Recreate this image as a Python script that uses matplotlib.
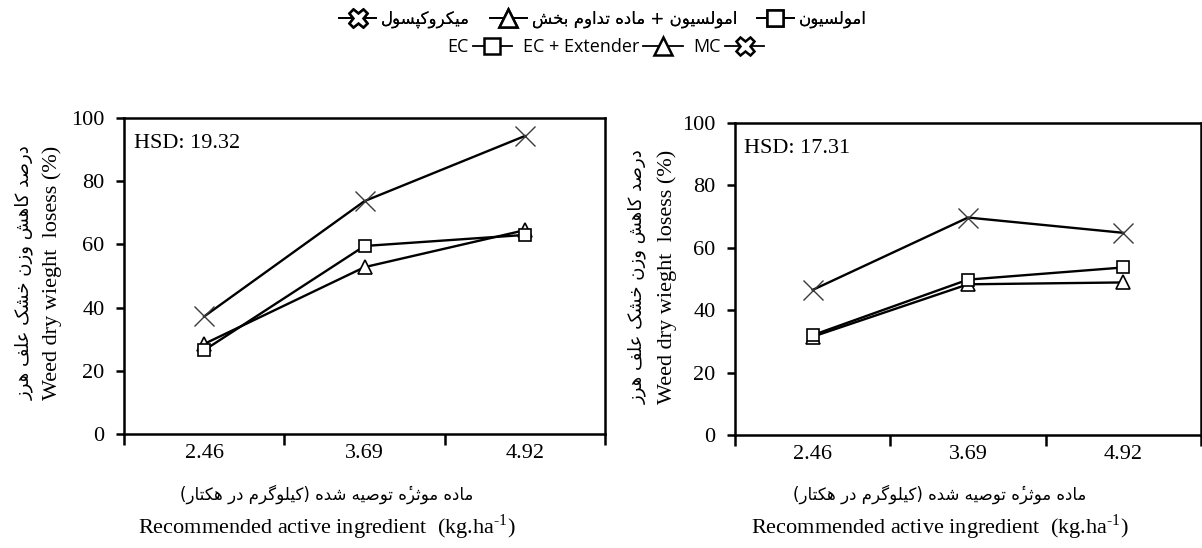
import matplotlib
matplotlib.use('Agg')
import matplotlib.pyplot as plt
from matplotlib.lines import Line2D

# Data
doses = ['2.46', '3.69', '4.92']
left_ec = [26.5, 59.5, 63.0]
left_ext = [28.5, 52.8, 64.5]
left_mc = [37.2, 73.7, 94.3]
right_ec = [32.0, 49.8, 53.7]
right_ext = [31.5, 48.3, 48.9]
right_mc = [46.5, 69.7, 64.8]
hsd_values = ['19.32', '17.31']

labels_en = ['EC', 'EC + Extender', 'MC']
labels_fa = ['امولسیون', 'امولسیون + ماده تداوم بخش', 'میکروکپسول']
ylabel_fa = 'درصد کاهش وزن خشک علف هرز'
ylabel_en = 'Weed dry wieght  losess (%)'
xlabel_fa = 'ماده موثرۀ توصیه شده (کیلوگرم در هکتار)'
xlabel_en = r'Recommended active ingredient  (kg.ha$^{\text{-1}}$)'

# Arabic presentation forms: isolated, final, initial, medial
FORMS = {
    'ا': ('\uFE8D', '\uFE8E', None, None),
    'ب': ('\uFE8F', '\uFE90', '\uFE91', '\uFE92'),
    'پ': ('\uFB56', '\uFB57', '\uFB58', '\uFB59'),
    'ت': ('\uFE95', '\uFE96', '\uFE97', '\uFE98'),
    'ث': ('\uFE99', '\uFE9A', '\uFE9B', '\uFE9C'),
    'خ': ('\uFEA5', '\uFEA6', '\uFEA7', '\uFEA8'),
    'د': ('\uFEA9', '\uFEAA', None, None),
    'ر': ('\uFEAD', '\uFEAE', None, None),
    'ز': ('\uFEAF', '\uFEB0', None, None),
    'س': ('\uFEB1', '\uFEB2', '\uFEB3', '\uFEB4'),
    'ش': ('\uFEB5', '\uFEB6', '\uFEB7', '\uFEB8'),
    'ص': ('\uFEB9', '\uFEBA', '\uFEBB', '\uFEBC'),
    'ع': ('\uFEC9', '\uFECA', '\uFECB', '\uFECC'),
    'ف': ('\uFED1', '\uFED2', '\uFED3', '\uFED4'),
    'ک': ('\uFB8E', '\uFB8F', '\uFB90', '\uFB91'),
    'گ': ('\uFB92', '\uFB93', '\uFB94', '\uFB95'),
    'ل': ('\uFEDD', '\uFEDE', '\uFEDF', '\uFEE0'),
    'م': ('\uFEE1', '\uFEE2', '\uFEE3', '\uFEE4'),
    'ن': ('\uFEE5', '\uFEE6', '\uFEE7', '\uFEE8'),
    'ه': ('\uFEE9', '\uFEEA', '\uFEEB', '\uFEEC'),
    'و': ('\uFEED', '\uFEEE', None, None),
    'ی': ('\uFBFC', '\uFBFD', '\uFBFE', '\uFBFF'),
    'ۀ': ('\uFEE9\u0654', '\uFEEA\u0654', None, None),
}


def fa(s):
    # minimal shaping + right-to-left ordering for matplotlib
    out = []
    for i, ch in enumerate(s):
        if ch not in FORMS:
            out.append(ch)
            continue
        iso, fin, ini, med = FORMS[ch]
        prev = s[i - 1] if i > 0 else ''
        nxt = s[i + 1] if i + 1 < len(s) else ''
        join_prev = prev in FORMS and FORMS[prev][2] is not None
        join_next = ini is not None and nxt in FORMS
        if join_prev and join_next:
            out.append(med)
        elif join_prev:
            out.append(fin)
        elif join_next:
            out.append(ini)
        else:
            out.append(iso)
    vis = ''.join(reversed(out))
    return vis.translate(str.maketrans('()', ')('))


SERIF = 'Liberation Serif'
FA_FONT = 'DejaVu Sans'
plt.rcParams['mathtext.fontset'] = 'custom'
plt.rcParams['mathtext.rm'] = SERIF

fig = plt.figure(figsize=(12.02, 5.48), dpi=100)
W, H = 1202, 548

styles = {
    'ec': dict(marker='s', ms=9, mfc='white', mec='black', mew=1.2),
    'ext': dict(marker='^', ms=10, mfc='white', mec='black', mew=1.2),
    'mc': dict(marker='x', ms=14, mec='#3a3a3a', mew=1.0),
}


def panel(rect, ec, ext, mc, hsd):
    ax = fig.add_axes([rect[0] / W, 1 - rect[3] / H, (rect[2] - rect[0]) / W, (rect[3] - rect[1]) / H])
    x = range(len(doses))
    ax.plot(x, mc, color='black', lw=1.7, **styles['mc'])
    ax.plot(x, ext, color='black', lw=1.7, **styles['ext'])
    ax.plot(x, ec, color='black', lw=1.7, **styles['ec'])
    ax.set_xlim(-0.5, len(doses) - 0.5)
    ax.set_ylim(0, 100)
    ax.set_yticks(range(0, 101, 20))
    ax.set_xticks([i - 0.5 for i in range(len(doses) + 1)])
    ax.set_xticklabels([])
    ax.set_xticks(list(x), minor=True)
    ax.set_xticklabels(doses, minor=True)
    ax.tick_params(axis='x', which='major', direction='out', length=8, width=1.8)
    ax.tick_params(axis='x', which='minor', length=0, pad=7, labelsize=16)
    ax.tick_params(axis='y', direction='out', length=6, width=1.8, pad=8, labelsize=16)
    for lab in ax.get_xticklabels(minor=True) + ax.get_yticklabels():
        lab.set_fontfamily(SERIF)
    for sp in ax.spines.values():
        sp.set_linewidth(1.8)
    ax.text(0.02, 0.95, 'HSD: ' + hsd, transform=ax.transAxes, ha='left', va='top',
            fontsize=16, family=SERIF)
    return ax


panel((124, 118, 605, 434), left_ec, left_ext, left_mc, hsd_values[0])
panel((735, 123, 1201, 435), right_ec, right_ext, right_mc, hsd_values[1])

# axis titles (two languages each)
for yx_fa, yx_en, yc in [(24, 52, 273), (637, 667, 277)]:
    fig.text(yx_fa / W, 1 - yc / H, fa(ylabel_fa), rotation=90, ha='center', va='center',
             fontsize=13, family=FA_FONT)
    fig.text(yx_en / W, 1 - yc / H, ylabel_en, rotation=90, ha='center', va='center',
             fontsize=16, family=SERIF)
for xc in [327, 940]:
    fig.text(xc / W, 1 - 494 / H, fa(xlabel_fa), ha='center', va='center',
             fontsize=12, family=FA_FONT)
    fig.text(xc / W, 1 - 527 / H, xlabel_en, ha='center', va='center',
             fontsize=16, family=SERIF)

# legends
h_ec = Line2D([], [], color='black', lw=1.3, marker='s', ms=11, mfc='white', mec='black', mew=1.8)
h_ext = Line2D([], [], color='black', lw=1.3, marker='^', ms=13, mfc='white', mec='black', mew=1.8)
h_mc = Line2D([], [], color='black', lw=1.3, marker='X', ms=13, mfc='white', mec='black', mew=1.8)

leg_fa = fig.legend([h_mc, h_ext, h_ec], [fa(t) for t in labels_fa[::-1]], loc='center',
                    bbox_to_anchor=(603 / W, 1 - 19 / H), ncol=3, frameon=False, markerfirst=True,
                    handlelength=2.2, handletextpad=0.3, columnspacing=1.2,
                    prop=dict(family=FA_FONT, size=12))
fig.add_artist(leg_fa)
fig.legend([h_ec, h_ext, h_mc], labels_en, loc='center', bbox_to_anchor=(606 / W, 1 - 47 / H),
           ncol=3, frameon=False, markerfirst=False, handlelength=2.2, handletextpad=0.2,
           columnspacing=0.6, prop=dict(family='Open Sans', size=13))

fig.savefig('out.png', dpi=100)
